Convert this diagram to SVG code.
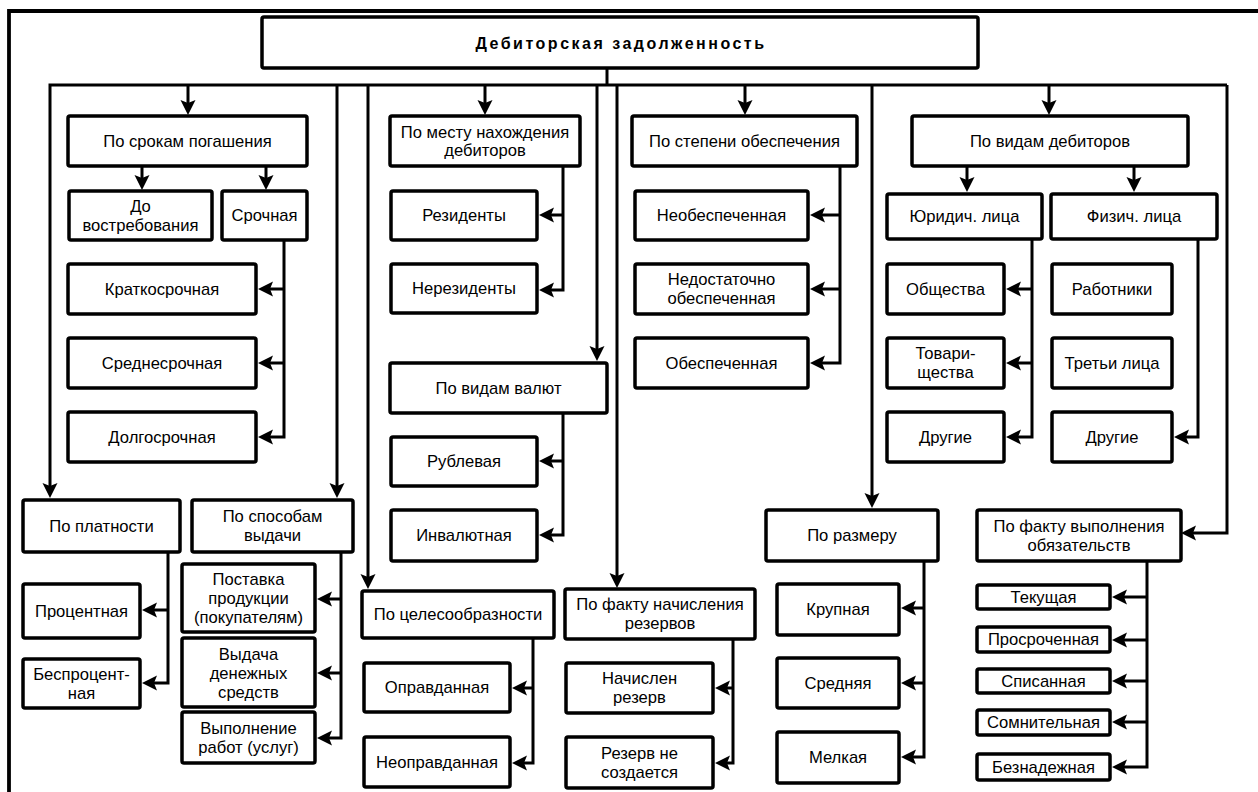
<svg xmlns="http://www.w3.org/2000/svg" width="1258" height="792" viewBox="0 0 1258 792">
<style>
.b{fill:#fff;stroke:#000;stroke-width:3.5}
.t{font-family:"Liberation Sans",Arial,sans-serif;font-size:16.6px;fill:#000;text-anchor:middle}
.h{font-family:"Liberation Sans",Arial,sans-serif;font-size:16px;font-weight:bold;letter-spacing:2.5px;fill:#000;text-anchor:middle}
.c{fill:none;stroke:#000;stroke-width:3}
.a{marker-end:url(#ah)}
</style>
<defs>
<marker id="ah" markerUnits="userSpaceOnUse" markerWidth="16" markerHeight="16" refX="4" refY="7.5" orient="auto" overflow="visible">
<path d="M0,0 L15,7.5 L0,15 L3,7.5 Z" fill="#000"/>
</marker>
</defs>
<rect x="0" y="0" width="1258" height="792" fill="#fff"/>
<path d="M9,792 V11 H1258" fill="none" stroke="#000" stroke-width="3.8"/>
<g id="connectors">
<path class="c" d="M607,68 V85"/>
<path class="c a" d="M1227,85 H50 V487"/>
<path class="c a" d="M1227,85 V533 H1192"/>
<path class="c a" d="M188,85 V104"/>
<path class="c a" d="M337,85 V487"/>
<path class="c a" d="M368,85 V578"/>
<path class="c a" d="M485,85 V104"/>
<path class="c a" d="M597,85 V350"/>
<path class="c a" d="M617,85 V577"/>
<path class="c a" d="M745,85 V104"/>
<path class="c a" d="M872,85 V497"/>
<path class="c a" d="M1049,85 V104"/>
<path class="c a" d="M142,166 V179"/>
<path class="c a" d="M266,166 V179"/>
<path class="c a" d="M284,240 V437 H269"/>
<path class="c a" d="M284,289 H269"/>
<path class="c a" d="M284,363 H269"/>
<path class="c a" d="M563,166 V290 H550"/>
<path class="c a" d="M563,215 H550"/>
<path class="c a" d="M563,413 V535 H550"/>
<path class="c a" d="M563,461 H550"/>
<path class="c a" d="M840,166 V363 H821"/>
<path class="c a" d="M840,215 H821"/>
<path class="c a" d="M840,289 H821"/>
<path class="c a" d="M967,166 V181"/>
<path class="c a" d="M1134,166 V181"/>
<path class="c a" d="M1032,239 V437 H1017"/>
<path class="c a" d="M1032,289 H1017"/>
<path class="c a" d="M1032,363 H1017"/>
<path class="c a" d="M1198,239 V437 H1185"/>
<path class="c a" d="M168,552 V683 H153"/>
<path class="c a" d="M168,610 H153"/>
<path class="c a" d="M341,552 V738 H328"/>
<path class="c a" d="M341,599 H328"/>
<path class="c a" d="M341,673 H328"/>
<path class="c a" d="M533,638 V763 H523"/>
<path class="c a" d="M533,688 H523"/>
<path class="c a" d="M733,639 V763 H726"/>
<path class="c a" d="M733,688 H726"/>
<path class="c a" d="M924,561 V757 H912"/>
<path class="c a" d="M924,608 H912"/>
<path class="c a" d="M924,683 H912"/>
<path class="c a" d="M1147,561 V767 H1123"/>
<path class="c a" d="M1147,597 H1123"/>
<path class="c a" d="M1147,640 H1123"/>
<path class="c a" d="M1147,681 H1123"/>
<path class="c a" d="M1147,722 H1123"/>
</g>
<g id="root"><rect class="b" x="262" y="17" width="716" height="51" rx="2"/><text class="h" x="621" y="48.5">Дебиторская задолженность</text></g>
<g id="srokam"><rect class="b" x="68" y="116" width="239" height="50" rx="2"/><text class="t" x="187.5" y="146.8">По срокам погашения</text></g>
<g id="do_vostr"><rect class="b" x="69" y="191" width="143" height="49" rx="2"/><text class="t" y="212.3"><tspan x="140.5">До</tspan><tspan x="140.5" dy="19">востребования</tspan></text></g>
<g id="srochnaya"><rect class="b" x="222" y="191" width="85" height="49" rx="2"/><text class="t" x="264.5" y="221.3">Срочная</text></g>
<g id="kratko"><rect class="b" x="68" y="264" width="188" height="50" rx="2"/><text class="t" x="162" y="294.8">Краткосрочная</text></g>
<g id="sredne"><rect class="b" x="68" y="338" width="188" height="50" rx="2"/><text class="t" x="162" y="368.8">Среднесрочная</text></g>
<g id="dolgo"><rect class="b" x="68" y="412" width="188" height="50" rx="2"/><text class="t" x="162" y="442.8">Долгосрочная</text></g>
<g id="mesto"><rect class="b" x="390" y="116" width="190" height="50" rx="2"/><text class="t" y="137.8"><tspan x="485">По месту нахождения</tspan><tspan x="485" dy="18">дебиторов</tspan></text></g>
<g id="rezidenty"><rect class="b" x="391" y="191" width="146" height="49" rx="2"/><text class="t" x="464" y="221.3">Резиденты</text></g>
<g id="nerezidenty"><rect class="b" x="391" y="264" width="146" height="49" rx="2"/><text class="t" x="464" y="294.3">Нерезиденты</text></g>
<g id="valyut"><rect class="b" x="390" y="363" width="217" height="50" rx="2"/><text class="t" x="498.5" y="393.8">По видам валют</text></g>
<g id="rublevaya"><rect class="b" x="391" y="437" width="146" height="49" rx="2"/><text class="t" x="464" y="467.3">Рублевая</text></g>
<g id="invalyut"><rect class="b" x="391" y="510" width="146" height="51" rx="2"/><text class="t" x="464" y="541.3">Инвалютная</text></g>
<g id="stepeni"><rect class="b" x="632" y="116" width="225" height="50" rx="2"/><text class="t" x="744.5" y="146.8">По степени обеспечения</text></g>
<g id="neobesp"><rect class="b" x="635" y="191" width="173" height="49" rx="2"/><text class="t" x="721.5" y="221.3">Необеспеченная</text></g>
<g id="nedost"><rect class="b" x="635" y="264" width="173" height="50" rx="2"/><text class="t" y="285.3"><tspan x="721.5">Недостаточно</tspan><tspan x="721.5" dy="19">обеспеченная</tspan></text></g>
<g id="obesp"><rect class="b" x="635" y="338" width="173" height="50" rx="2"/><text class="t" x="721.5" y="368.8">Обеспеченная</text></g>
<g id="vidam_deb"><rect class="b" x="912" y="116" width="276" height="50" rx="2"/><text class="t" x="1050" y="146.8">По видам дебиторов</text></g>
<g id="yur"><rect class="b" x="887" y="194" width="155" height="45" rx="2"/><text class="t" x="964.5" y="222.3">Юридич. лица</text></g>
<g id="fiz"><rect class="b" x="1051" y="194" width="166" height="45" rx="2"/><text class="t" x="1134" y="222.3">Физич. лица</text></g>
<g id="obshestva"><rect class="b" x="887" y="264" width="117" height="50" rx="2"/><text class="t" x="945.5" y="294.8">Общества</text></g>
<g id="tovar"><rect class="b" x="887" y="338" width="117" height="50" rx="2"/><text class="t" y="359.3"><tspan x="945.5">Товари-</tspan><tspan x="945.5" dy="19">щества</tspan></text></g>
<g id="drugie1"><rect class="b" x="887" y="412" width="117" height="50" rx="2"/><text class="t" x="945.5" y="442.8">Другие</text></g>
<g id="rabotniki"><rect class="b" x="1052" y="264" width="120" height="50" rx="2"/><text class="t" x="1112" y="294.8">Работники</text></g>
<g id="tretyi"><rect class="b" x="1052" y="338" width="120" height="50" rx="2"/><text class="t" x="1112" y="368.8">Третьи лица</text></g>
<g id="drugie2"><rect class="b" x="1052" y="412" width="120" height="50" rx="2"/><text class="t" x="1112" y="442.8">Другие</text></g>
<g id="platnosti"><rect class="b" x="23" y="500" width="157" height="52" rx="2"/><text class="t" x="101.5" y="531.8">По платности</text></g>
<g id="sposobam"><rect class="b" x="192" y="500" width="161" height="52" rx="2"/><text class="t" y="522.3"><tspan x="272.5">По способам</tspan><tspan x="272.5" dy="19">выдачи</tspan></text></g>
<g id="procent"><rect class="b" x="23" y="584" width="117" height="54" rx="2"/><text class="t" x="81.5" y="616.8">Процентная</text></g>
<g id="bespr"><rect class="b" x="23" y="659" width="117" height="49" rx="2"/><text class="t" y="679.8"><tspan x="81.5">Беспроцент-</tspan><tspan x="81.5" dy="19">ная</tspan></text></g>
<g id="postavka"><rect class="b" x="182" y="564" width="133" height="68" rx="2"/><text class="t" y="584.8"><tspan x="248.5">Поставка</tspan><tspan x="248.5" dy="19">продукции</tspan><tspan x="248.5" dy="19">(покупателям)</tspan></text></g>
<g id="vydacha"><rect class="b" x="182" y="638" width="133" height="69" rx="2"/><text class="t" y="659.8"><tspan x="248.5">Выдача</tspan><tspan x="248.5" dy="19">денежных</tspan><tspan x="248.5" dy="19">средств</tspan></text></g>
<g id="vypoln"><rect class="b" x="182" y="712" width="133" height="51" rx="2"/><text class="t" y="733.8"><tspan x="248.5">Выполнение</tspan><tspan x="248.5" dy="19">работ (услуг)</tspan></text></g>
<g id="celesoobr"><rect class="b" x="362" y="591" width="192" height="47" rx="2"/><text class="t" x="458" y="620.3">По целесообразности</text></g>
<g id="opravd"><rect class="b" x="364" y="663" width="146" height="49" rx="2"/><text class="t" x="437" y="693.3">Оправданная</text></g>
<g id="neopravd"><rect class="b" x="364" y="737" width="146" height="50" rx="2"/><text class="t" x="437" y="767.8">Неоправданная</text></g>
<g id="rezervov"><rect class="b" x="565" y="589" width="190" height="50" rx="2"/><text class="t" y="610.3"><tspan x="660">По факту начисления</tspan><tspan x="660" dy="19">резервов</tspan></text></g>
<g id="nachislen"><rect class="b" x="566" y="663" width="147" height="50" rx="2"/><text class="t" y="684.3"><tspan x="639.5">Начислен</tspan><tspan x="639.5" dy="19">резерв</tspan></text></g>
<g id="rezerv_ne"><rect class="b" x="566" y="737" width="147" height="51" rx="2"/><text class="t" y="758.8"><tspan x="639.5">Резерв не</tspan><tspan x="639.5" dy="19">создается</tspan></text></g>
<g id="razmeru"><rect class="b" x="766" y="510" width="172" height="51" rx="2"/><text class="t" x="852" y="541.3">По размеру</text></g>
<g id="krupnaya"><rect class="b" x="777" y="584" width="122" height="51" rx="2"/><text class="t" x="838" y="615.3">Крупная</text></g>
<g id="srednyaya"><rect class="b" x="777" y="658" width="122" height="50" rx="2"/><text class="t" x="838" y="688.8">Средняя</text></g>
<g id="melkaya"><rect class="b" x="777" y="732" width="122" height="51" rx="2"/><text class="t" x="838" y="763.3">Мелкая</text></g>
<g id="obyaz"><rect class="b" x="977" y="510" width="204" height="51" rx="2"/><text class="t" y="531.8"><tspan x="1079">По факту выполнения</tspan><tspan x="1079" dy="19">обязательств</tspan></text></g>
<g id="tekush"><rect class="b" x="977" y="585" width="133" height="24" rx="2"/><text class="t" x="1043.5" y="602.8">Текущая</text></g>
<g id="prosroch"><rect class="b" x="977" y="627" width="133" height="25" rx="2"/><text class="t" x="1043.5" y="645.3">Просроченная</text></g>
<g id="spisan"><rect class="b" x="977" y="669" width="133" height="24" rx="2"/><text class="t" x="1043.5" y="686.8">Списанная</text></g>
<g id="somnit"><rect class="b" x="977" y="710" width="133" height="25" rx="2"/><text class="t" x="1043.5" y="728.3">Сомнительная</text></g>
<g id="beznad"><rect class="b" x="977" y="754" width="133" height="26" rx="2"/><text class="t" x="1043.5" y="772.8">Безнадежная</text></g>
</svg>
